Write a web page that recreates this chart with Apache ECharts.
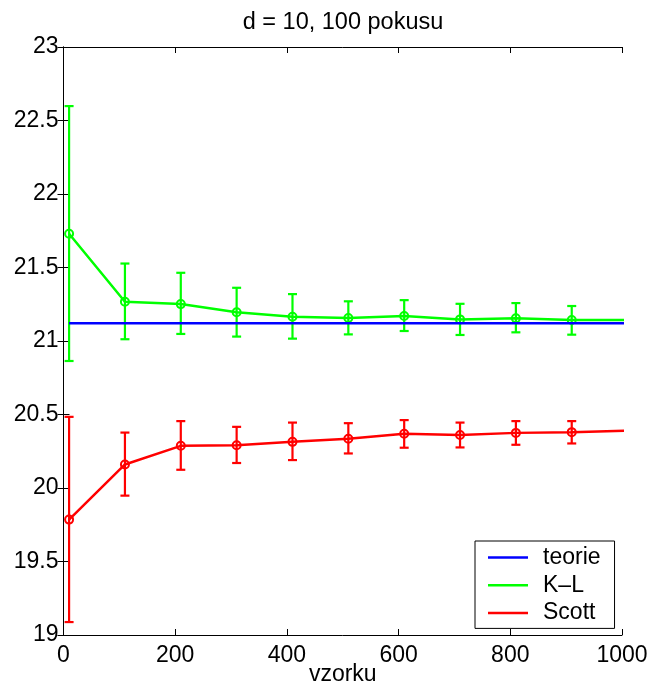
<!DOCTYPE html>
<html>
<head>
<meta charset="utf-8">
<script src="https://cdn.jsdelivr.net/npm/echarts@6/dist/echarts.min.js"></script>
<style>
  html, body { margin: 0; padding: 0; background: #fff; }
  #chart { width: 649px; height: 688px; }
</style>
</head>
<body>
<div id="chart"></div>
<script>
// sample sizes (the last one lies just past the axis end and is clipped)
const samples = [10, 110, 210, 310, 410, 510, 610, 710, 810, 910, 1010];

// theoretical value
const theory = 21.12;

// K-L estimator: mean and error bar bounds
const klMean = [21.73, 21.267, 21.251, 21.196, 21.165, 21.156, 21.170, 21.147, 21.154, 21.143, 21.143];
const klLow  = [20.864, 21.012, 21.048, 21.030, 21.016, 21.045, 21.068, 21.041, 21.059, 21.043, 21.05];
const klHigh = [22.598, 21.527, 21.464, 21.362, 21.319, 21.270, 21.278, 21.253, 21.258, 21.238, 21.24];

// Scott estimator: mean and error bar bounds
const scottMean = [19.785, 20.160, 20.287, 20.291, 20.314, 20.335, 20.369, 20.360, 20.375, 20.380, 20.390];
const scottLow  = [19.088, 19.948, 20.124, 20.170, 20.190, 20.235, 20.274, 20.276, 20.294, 20.303, 20.31];
const scottHigh = [20.484, 20.377, 20.455, 20.416, 20.445, 20.441, 20.462, 20.445, 20.455, 20.455, 20.46];

const xTicks = { min: 0, max: 1000, interval: 200 };
const yTicks = { min: 19, max: 23, interval: 0.5 };

const FONT = '"Liberation Sans", Arial, Helvetica, sans-serif';
const BLUE = '#0000ff', GREEN = '#00ff00', RED = '#ff0000';

function errorBars(color) {
  return function (params, api) {
    const x = api.value(0);
    if (x > xTicks.max) return null;
    const c = api.coord([x, api.value(1)]);
    const lo = api.coord([x, api.value(2)]);
    const hi = api.coord([x, api.value(3)]);
    const w = 4.5;
    const st = { stroke: color, lineWidth: 2.2, fill: null };
    return {
      type: 'group',
      children: [
        { type: 'line', shape: { x1: lo[0], y1: lo[1], x2: hi[0], y2: hi[1] }, style: st },
        { type: 'line', shape: { x1: lo[0] - w, y1: lo[1], x2: lo[0] + w, y2: lo[1] }, style: st },
        { type: 'line', shape: { x1: hi[0] - w, y1: hi[1], x2: hi[0] + w, y2: hi[1] }, style: st },
        { type: 'circle', shape: { cx: c[0], cy: c[1], r: 4 }, style: { stroke: color, lineWidth: 2, fill: null } }
      ]
    };
  };
}

const zip4 = (m, l, h) => samples.map((x, i) => [x, m[i], l[i], h[i]]);
const zip2 = (m) => samples.map((x, i) => [x, m[i]]);
const plain = v => String(v);

const axisCommon = {
  axisLine: { show: true, lineStyle: { color: '#000', width: 1 } },
  axisTick: { show: true, inside: true, length: 6, lineStyle: { color: '#000', width: 1 } },
  splitLine: { show: false }
};

const chart = echarts.init(document.getElementById('chart'), null, { renderer: 'canvas' });
chart.setOption({
  animation: false,
  backgroundColor: '#fff',
  title: {
    text: 'd = 10, 100 pokusu',
    left: 343,
    textAlign: 'center',
    top: 11,
    padding: 0,
    textStyle: { fontFamily: FONT, fontSize: 23.5, fontWeight: 'normal', color: '#000' }
  },
  grid: { left: 63.5, right: 27, top: 47, bottom: 53, containLabel: false, outerBoundsMode: 'none' },
  legend: {
    orient: 'vertical',
    left: 475,
    top: 541,
    padding: [5, 14, 4, 13],
    itemGap: 4.7,
    itemWidth: 40,
    itemHeight: 2.5,
    icon: 'rect',
    itemStyle: { borderWidth: 0 },
    borderColor: '#000',
    borderWidth: 1,
    backgroundColor: '#fff',
    textStyle: { fontFamily: FONT, fontSize: 23, color: '#000', padding: [0, 0, 0, 10] },
    data: ['teorie', 'K–L', 'Scott']
  },
  xAxis: [
    Object.assign({
      type: 'value', position: 'bottom',
      min: xTicks.min, max: xTicks.max, interval: xTicks.interval,
      name: 'vzorku', nameLocation: 'middle', nameGap: 28, nameMoveOverlap: false,
      nameTextStyle: { fontFamily: FONT, fontSize: 23, color: '#000' },
      axisLabel: { fontFamily: FONT, fontSize: 23, color: '#000', margin: 9, formatter: plain }
    }, axisCommon),
    Object.assign({
      type: 'value', position: 'top',
      min: xTicks.min, max: xTicks.max, interval: xTicks.interval,
      axisLabel: { show: false }
    }, axisCommon)
  ],
  yAxis: [
    Object.assign({
      type: 'value', position: 'left',
      min: yTicks.min, max: yTicks.max, interval: yTicks.interval,
      axisLabel: { fontFamily: FONT, fontSize: 23, color: '#000', margin: 5, formatter: plain }
    }, axisCommon),
    Object.assign({
      type: 'value', position: 'right',
      min: yTicks.min, max: yTicks.max, interval: yTicks.interval,
      axisLabel: { show: false }
    }, axisCommon)
  ],
  series: [
    {
      name: 'teorie', type: 'line', clip: true,
      data: samples.map(x => [x, theory]),
      showSymbol: false, symbol: 'none',
      color: BLUE, lineStyle: { color: BLUE, width: 2.5 }
    },
    {
      name: 'K–L', type: 'line', clip: true,
      data: zip2(klMean),
      showSymbol: false, symbol: 'none',
      color: GREEN, lineStyle: { color: GREEN, width: 2.5 }
    },
    {
      type: 'custom', clip: true,
      renderItem: errorBars(GREEN),
      data: zip4(klMean, klLow, klHigh),
      encode: { x: 0, y: [1, 2, 3] }
    },
    {
      name: 'Scott', type: 'line', clip: true,
      data: zip2(scottMean),
      showSymbol: false, symbol: 'none',
      color: RED, lineStyle: { color: RED, width: 2.5 }
    },
    {
      type: 'custom', clip: true,
      renderItem: errorBars(RED),
      data: zip4(scottMean, scottLow, scottHigh),
      encode: { x: 0, y: [1, 2, 3] }
    }
  ]
});
</script>
</body>
</html>
